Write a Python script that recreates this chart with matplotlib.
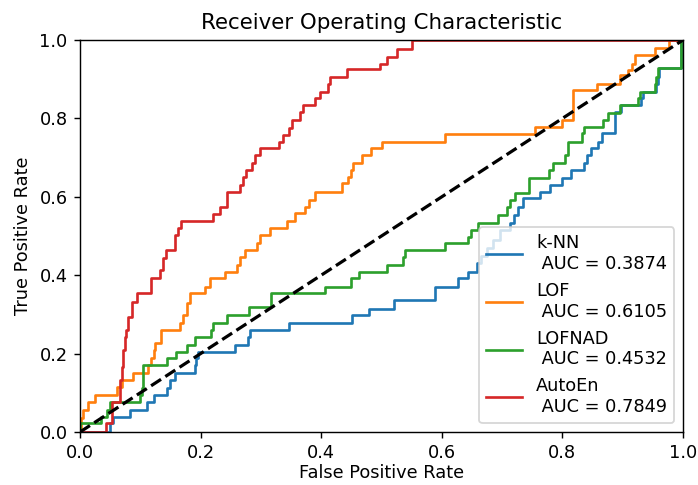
import numpy as np
import matplotlib
matplotlib.use('Agg')
import matplotlib.pyplot as plt

# ROC step corners: (fpr where tpr rises, new tpr)
knn_fpr = [0.0, 0.050, 0.055, 0.083, 0.111, 0.123, 0.144, 0.149, 0.157, 0.191, 0.192,
           0.195, 0.257, 0.279, 0.282, 0.347, 0.451, 0.479, 0.520, 0.588, 0.627, 0.644,
           0.658, 0.665, 0.675, 0.685, 0.697, 0.713, 0.719, 0.727, 0.735, 0.763, 0.779,
           0.799, 0.815, 0.835, 0.840, 0.848, 0.859, 0.865, 0.887, 0.898, 0.931, 0.934,
           0.955, 0.958, 0.961, 0.997, 1.0]
knn_tpr = [0.0, 0.022, 0.039, 0.056, 0.077, 0.094, 0.111, 0.133, 0.150, 0.171, 0.188,
           0.205, 0.222, 0.243, 0.260, 0.277, 0.298, 0.315, 0.337, 0.371, 0.392, 0.409,
           0.430, 0.450, 0.470, 0.490, 0.515, 0.532, 0.554, 0.575, 0.596, 0.613, 0.630,
           0.647, 0.668, 0.685, 0.707, 0.724, 0.741, 0.762, 0.817, 0.834, 0.851, 0.868,
           0.889, 0.906, 0.928, 1.0, 1.0]

lof_fpr = [0.0, 0.002, 0.0055, 0.014, 0.025, 0.061, 0.069, 0.088, 0.113, 0.118, 0.122,
           0.124, 0.134, 0.166, 0.170, 0.177, 0.182, 0.207, 0.216, 0.241, 0.260, 0.265,
           0.274, 0.293, 0.299, 0.315, 0.343, 0.357, 0.373, 0.379, 0.390, 0.434, 0.445,
           0.450, 0.453, 0.468, 0.483, 0.501, 0.605, 0.755, 0.799, 0.817, 0.857, 0.896,
           0.909, 0.915, 0.920, 0.953, 0.976, 1.0]
lof_tpr = [0.0, 0.036, 0.057, 0.077, 0.094, 0.116, 0.133, 0.150, 0.171, 0.188, 0.209,
           0.226, 0.260, 0.277, 0.298, 0.328, 0.354, 0.370, 0.392, 0.409, 0.426, 0.447,
           0.464, 0.481, 0.503, 0.520, 0.537, 0.558, 0.575, 0.592, 0.613, 0.634, 0.651,
           0.668, 0.685, 0.707, 0.724, 0.741, 0.760, 0.779, 0.796, 0.872, 0.889, 0.911,
           0.923, 0.940, 0.962, 0.979, 1.0, 1.0]

lofnad_fpr = [0.0, 0.0, 0.035, 0.044, 0.050, 0.0995, 0.102, 0.105, 0.145, 0.160, 0.177,
              0.191, 0.218, 0.221, 0.243, 0.280, 0.317, 0.407, 0.449, 0.463, 0.509, 0.536,
              0.539, 0.605, 0.644, 0.649, 0.660, 0.694, 0.708, 0.713, 0.721, 0.744, 0.777,
              0.785, 0.804, 0.810, 0.832, 0.835, 0.868, 0.876, 0.896, 0.926, 0.929, 0.953,
              0.956, 0.959, 0.997, 1.0]
lofnad_tpr = [0.0, 0.022, 0.039, 0.056, 0.077, 0.094, 0.111, 0.171, 0.188, 0.205, 0.222,
              0.243, 0.260, 0.277, 0.298, 0.320, 0.354, 0.370, 0.392, 0.409, 0.426, 0.447,
              0.464, 0.481, 0.498, 0.515, 0.532, 0.554, 0.575, 0.592, 0.609, 0.647, 0.668,
              0.685, 0.707, 0.741, 0.762, 0.779, 0.796, 0.813, 0.834, 0.851, 0.868, 0.889,
              0.906, 0.928, 1.0, 1.0]

autoen_fpr = [0.0, 0.043, 0.0525, 0.066, 0.069, 0.072, 0.075, 0.077, 0.080, 0.086, 0.094,
              0.118, 0.133, 0.138, 0.142, 0.158, 0.163, 0.168, 0.221, 0.232, 0.243, 0.265,
              0.271, 0.276, 0.285, 0.290, 0.298, 0.330, 0.337, 0.346, 0.351, 0.365, 0.370,
              0.390, 0.398, 0.412, 0.415, 0.442, 0.498, 0.509, 0.525, 0.550, 1.0]
autoen_tpr = [0.0, 0.022, 0.077, 0.133, 0.167, 0.209, 0.243, 0.260, 0.294, 0.332, 0.354,
              0.392, 0.413, 0.443, 0.464, 0.503, 0.520, 0.537, 0.555, 0.575, 0.613, 0.630,
              0.651, 0.668, 0.685, 0.707, 0.724, 0.741, 0.758, 0.775, 0.796, 0.817, 0.834,
              0.851, 0.868, 0.889, 0.906, 0.925, 0.940, 0.957, 0.978, 1.0, 1.0]

names = ['k-NN', 'LOF', 'LOFNAD', 'AutoEn']
aucs = [0.3874, 0.6105, 0.4532, 0.7849]
curves = [(knn_fpr, knn_tpr), (lof_fpr, lof_tpr),
          (lofnad_fpr, lofnad_tpr), (autoen_fpr, autoen_tpr)]

dpi = 128
fig = plt.figure(figsize=(698 / dpi, 485 / dpi), dpi=dpi)
ax = fig.add_axes([80 / 698, 53 / 485, 603 / 698, 392 / 485])

for name, auc, (fpr, tpr) in zip(names, aucs, curves):
    ax.plot(fpr, tpr, drawstyle='steps-post', lw=1.5,
            label='%s\n AUC = %0.4f' % (name, auc))

ax.plot([0, 1], [0, 1], 'k--', lw=1.8)
ax.set_xlim([0.0, 1.0])
ax.set_ylim([0.0, 1.0])
ax.set_xlabel('False Positive Rate', labelpad=1)
ax.set_ylabel('True Positive Rate')
ax.set_title('Receiver Operating Characteristic')
ax.legend(loc='lower right')
plt.savefig('out.png', dpi=dpi)
